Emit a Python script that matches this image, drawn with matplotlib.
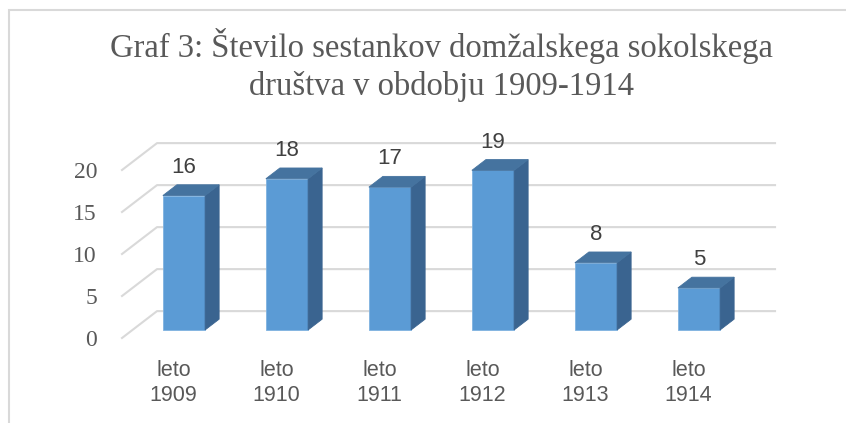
import matplotlib
matplotlib.use("Agg")
from matplotlib import pyplot as plt
from matplotlib.patches import Polygon, Rectangle

title = "Graf 3: Število sestankov domžalskega sokolskega\ndruštva v obdobju 1909-1914"
categories = ["leto\n1909", "leto\n1910", "leto\n1911", "leto\n1912", "leto\n1913", "leto\n1914"]
values = [16, 18, 17, 19, 8, 5]
yticks = [0, 5, 10, 15, 20]

# fake 3d: depth of the plot box in data units
DX = 0.34
DY = 3.2
F0, F1 = 0.30, 0.70   # bar front / back as fraction of depth
WIDTH = 0.41

FRONT = "#5B9BD5"
TOP = "#45739F"
SIDE = "#3A6490"
GRID = "#D9D9D9"

fig = plt.figure(figsize=(8.46, 4.23), dpi=100)
fig.patches.append(Rectangle((9 / 846, -0.1), 1, 0.1 + 413 / 423, transform=fig.transFigure,
                             fill=False, edgecolor="#D9D9D9", linewidth=1.5))

ax = fig.add_axes([122 / 846, 85 / 423, 618 / 846, 168 / 423])
ax.set_xlim(-0.5, len(values) - 0.5)
ax.set_ylim(0, 20)
for s in ax.spines.values():
    s.set_visible(False)

# back wall gridlines with diagonal on the left side
x0 = -0.5
x1 = len(values) - 0.5
for v in yticks:
    ax.plot([x0, x0 + DX, x1 + DX], [v, v + DY, v + DY], color=GRID,
            linewidth=1.5, clip_on=False, zorder=1)

for i, v in enumerate(values):
    left = i - WIDTH / 2 + F0 * DX
    right = left + WIDTH
    base = F0 * DY
    d = (F1 - F0)
    front = Rectangle((left, base), WIDTH, v, facecolor=FRONT, edgecolor="#7FB2E0",
                      linewidth=0.6, clip_on=False, zorder=3)
    top = Polygon([(left, base + v), (right, base + v),
                   (right + d * DX, base + v + d * DY), (left + d * DX, base + v + d * DY)],
                  closed=True, facecolor=TOP, edgecolor=TOP, linewidth=0.6, clip_on=False, zorder=3)
    side = Polygon([(right, base), (right + d * DX, base + d * DY),
                    (right + d * DX, base + v + d * DY), (right, base + v)],
                   closed=True, facecolor=SIDE, edgecolor=SIDE, linewidth=0.6, clip_on=False, zorder=3)
    ax.add_patch(front)
    ax.add_patch(side)
    ax.add_patch(top)
    ax.annotate(str(v), (left + WIDTH / 2, base + v + d * DY), xytext=(0, 5),
                textcoords="offset points", ha="center", va="bottom",
                fontsize=16, color="#404040", family="Liberation Sans",
                annotation_clip=False)

ax.set_yticks(yticks)
ax.set_yticklabels([str(t) for t in yticks], family="Liberation Serif",
                   fontsize=17, color="#595959")
ax.tick_params(axis="y", length=0, pad=18)
ax.set_xticks(range(len(values)))
ax.set_xticklabels(categories, family="Liberation Sans", fontsize=15.5,
                   color="#595959", linespacing=1.25)
ax.tick_params(axis="x", length=0, pad=16)

fig.text(441 / 846, 1 - 65 / 423, title, ha="center", va="center",
         family="Liberation Serif", fontsize=23.5, color="#595959", linespacing=1.25)

fig.savefig("out.png", dpi=100)
